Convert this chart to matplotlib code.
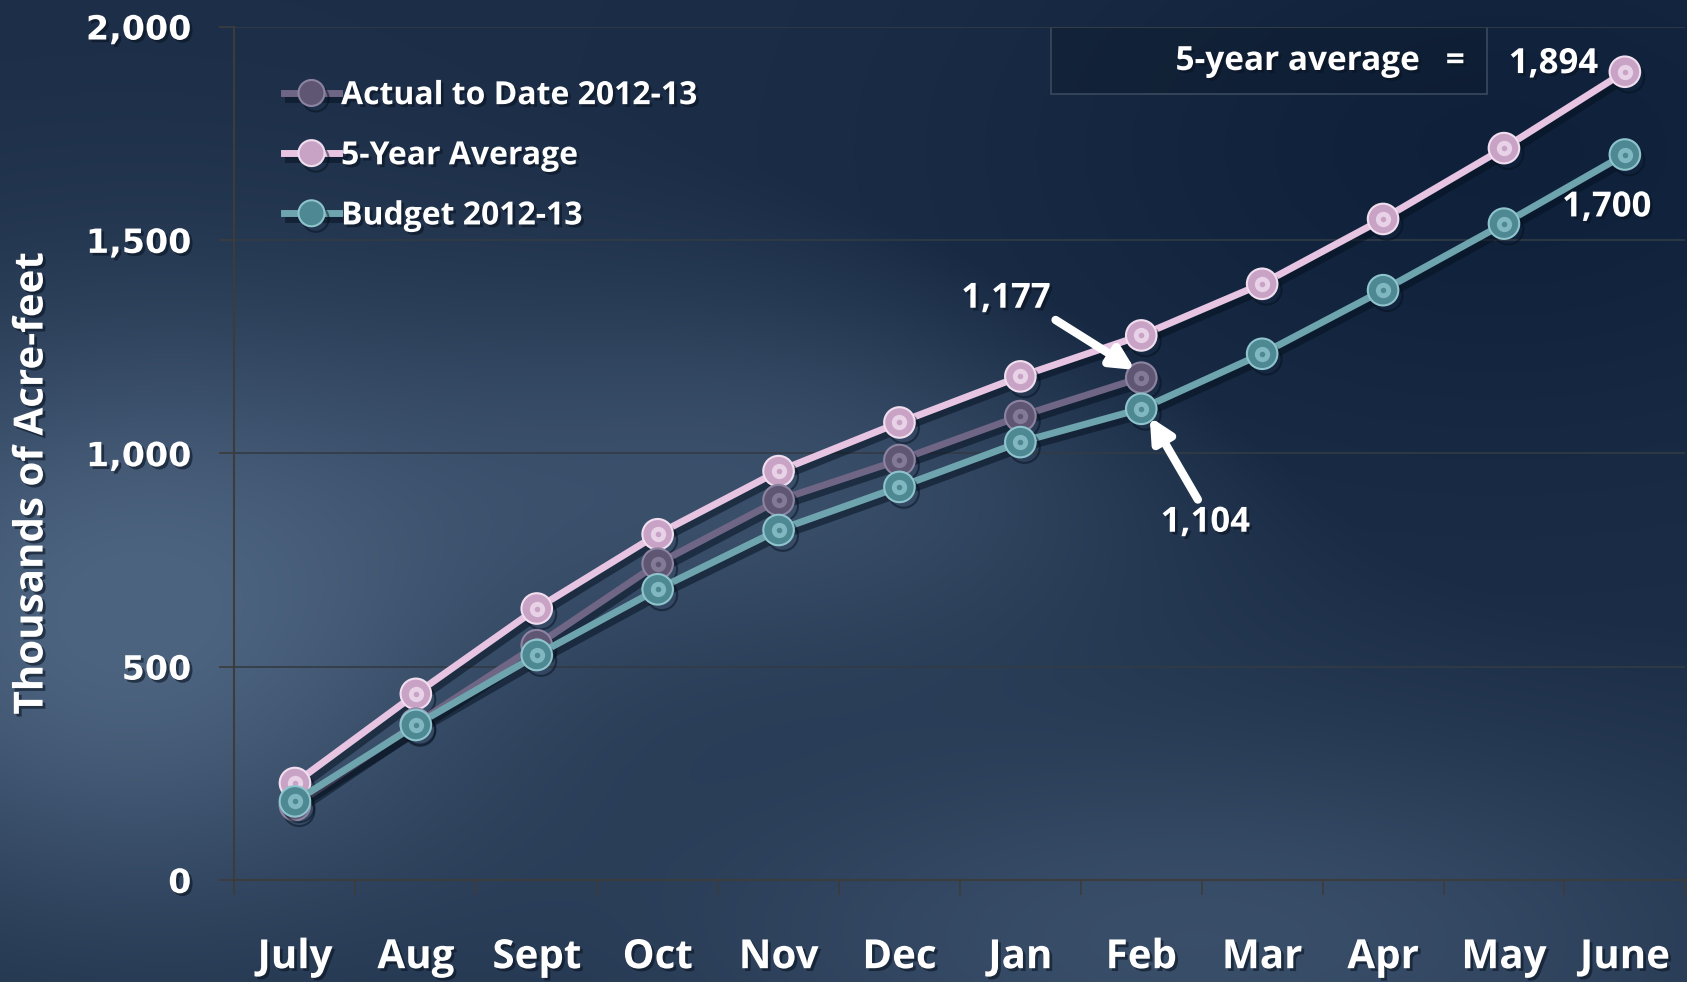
import numpy as np
import matplotlib
matplotlib.use('Agg')
from matplotlib import pyplot as plt
from matplotlib import patheffects as pe
from matplotlib.patches import Rectangle

months = ['July', 'Aug', 'Sept', 'Oct', 'Nov', 'Dec', 'Jan', 'Feb', 'Mar', 'Apr', 'May', 'June']
avg_5yr = [227, 436, 636, 810, 958, 1072, 1180, 1276, 1397, 1549, 1715, 1894]
budget = [184, 363, 527, 681, 820, 921, 1026, 1104, 1233, 1382, 1538, 1700]
actual = [175, 366, 550, 741, 890, 984, 1087, 1177]
y_ticks = [0, 500, 1000, 1500, 2000]

FONT = 'Open Sans'

W, H = 1687, 982
fig = plt.figure(figsize=(W / 100, H / 100), dpi=100)

# background: dark blue with soft lighter patches
bg_ax = fig.add_axes([0, 0, 1, 1], zorder=-10)
yy, xx = np.mgrid[0:H, 0:W]
base = np.array([0.11, 0.18, 0.28])
light = np.array([0.30, 0.39, 0.50])
glow = np.exp(-(((xx - 120) / 380) ** 2 + ((yy - 620) / 300) ** 2))
glow += 0.6 * np.exp(-(((xx - 800) / 420) ** 2 + ((yy - 470) / 200) ** 2))
glow += 0.6 * np.exp(-(((xx - 1200) / 600) ** 2 + ((yy - 940) / 220) ** 2))
dark = np.exp(-(((xx - 1500) / 500) ** 2 + ((yy - 150) / 300) ** 2))
glow = np.clip(glow - 0.6 * dark, 0, 1)
img = base[None, None, :] + (light - base)[None, None, :] * glow[:, :, None]
img = img - 0.05 * dark[:, :, None]
bg_ax.imshow(np.clip(img, 0, 1), aspect='auto', extent=[0, 1, 0, 1])
bg_ax.axis('off')

ax = fig.add_axes([0.139, 0.104, 0.860, 0.869])
ax.patch.set_alpha(0)

x = np.arange(len(months))
shadow = [pe.SimpleLineShadow(offset=(3, -4), shadow_color='#05101e', alpha=0.5), pe.Normal()]


def draw_series(xv, yv, line_c, mark_c, hi_c, label, z):
    ax.plot(xv, yv, color=line_c, lw=5, marker='o', markersize=22,
            markerfacecolor=mark_c, markeredgecolor=hi_c, markeredgewidth=1.5,
            label=label, zorder=z, path_effects=shadow)
    ax.plot(xv, yv, ls='none', marker='o', markersize=11,
            markerfacecolor=hi_c, markeredgecolor='none', alpha=0.8, zorder=z + 0.1)
    ax.plot(xv, yv, ls='none', marker='o', markersize=4,
            markerfacecolor=mark_c, markeredgecolor='none', zorder=z + 0.2)


draw_series(x, avg_5yr, '#e7c5e2', '#c9a3c6', '#f1dff0', '5-Year Average', 3)
draw_series(x[:len(actual)], actual, '#6f6584', '#5e5673', '#8d84a2', 'Actual to Date 2012-13', 4)
draw_series(x, budget, '#6ea4ae', '#4d8893', '#8fc4cc', 'Budget 2012-13', 5)

ax.set_xlim(-0.5, len(months) - 0.5)
ax.set_ylim(0, 2000)

ax.set_yticks(y_ticks)
ax.set_yticklabels([f'{v:,}' for v in y_ticks])
ax.set_xticks(x)
ax.set_xticklabels(months)
ax.set_xticks(np.arange(-0.5, len(months)), minor=True)

txt_shadow = [pe.withSimplePatchShadow(offset=(2, -2), shadow_rgbFace='#0a1422', alpha=0.6)]
for lab in ax.get_yticklabels():
    lab.set_fontfamily('DejaVu Sans')
    lab.set_fontweight('bold')
    lab.set_fontsize(24)
    lab.set_color('white')
    lab.set_path_effects(txt_shadow)
for lab in ax.get_xticklabels():
    lab.set_fontfamily(FONT)
    lab.set_fontweight('bold')
    lab.set_fontsize(29)
    lab.set_color('white')
    lab.set_path_effects(txt_shadow)

ax.tick_params(axis='x', which='major', length=0, pad=42)
ax.tick_params(axis='x', which='minor', length=11, width=1.2, color='#3c3c3c', direction='out')
ax.tick_params(axis='y', length=11, width=1.2, color='#3c3c3c', direction='out', pad=20)

ax.grid(axis='y', color='#333b45', lw=1.2)
for s in ['top', 'right']:
    ax.spines[s].set_visible(False)
for s in ['left', 'bottom']:
    ax.spines[s].set_color('#3c3c3c')
    ax.spines[s].set_linewidth(1.5)

fig.text(0.019, 0.507, 'Thousands of Acre-feet', rotation=90, va='center', ha='center',
         color='white', fontsize=29, fontfamily=FONT, fontweight='bold', path_effects=txt_shadow)

handles, labels = ax.get_legend_handles_labels()
order = [1, 0, 2]
leg = ax.legend([handles[i] for i in order], [labels[i] for i in order],
                loc='upper left', bbox_to_anchor=(0.014, 0.972), frameon=False,
                handlelength=1.75, handletextpad=0.05, labelspacing=0.85, markerscale=0.85,
                prop={'family': FONT, 'weight': 'bold', 'size': 23})
for t in leg.get_texts():
    t.set_color('white')
    t.set_path_effects(txt_shadow)

# "5-year average = 1,894" box
ax.add_patch(Rectangle((0.563, 0.921), 0.300, 0.079, transform=ax.transAxes,
                       facecolor='#0c1828', alpha=0.35, edgecolor='none', zorder=1))
ax.add_patch(Rectangle((0.563, 0.921), 0.300, 0.079, transform=ax.transAxes,
                       facecolor='none', edgecolor='#3a4a5e', lw=1.2, zorder=1))
ax.text(0.848, 0.959, '5-year average   =', transform=ax.transAxes, ha='right', va='center',
        color='white', fontsize=24, fontfamily=FONT, fontweight='bold', path_effects=txt_shadow)

lbl_kw = dict(color='white', fontsize=25, fontfamily=FONT, fontweight='bold',
              ha='center', va='center', path_effects=txt_shadow, zorder=10)
ax.text(10.41, 1912, f'{avg_5yr[-1]:,}', **lbl_kw)
ax.text(10.85, 1576, f'{budget[-1]:,}', **lbl_kw)

arrow_kw = dict(arrowstyle='-|>', color='white', lw=6, mutation_scale=34, shrinkA=2, shrinkB=0)
ax.annotate(f'{actual[-1]:,}', xy=(6.95, 1195), xytext=(5.88, 1362), textcoords='data',
            arrowprops=dict(arrow_kw, relpos=(1.0, 0.0)), **lbl_kw)
ax.annotate(f'{budget[7]:,}', xy=(7.07, 1085), xytext=(7.53, 837), textcoords='data',
            arrowprops=dict(arrow_kw, relpos=(0.45, 1.0)), **lbl_kw)

fig.savefig('out.png', dpi=100)
